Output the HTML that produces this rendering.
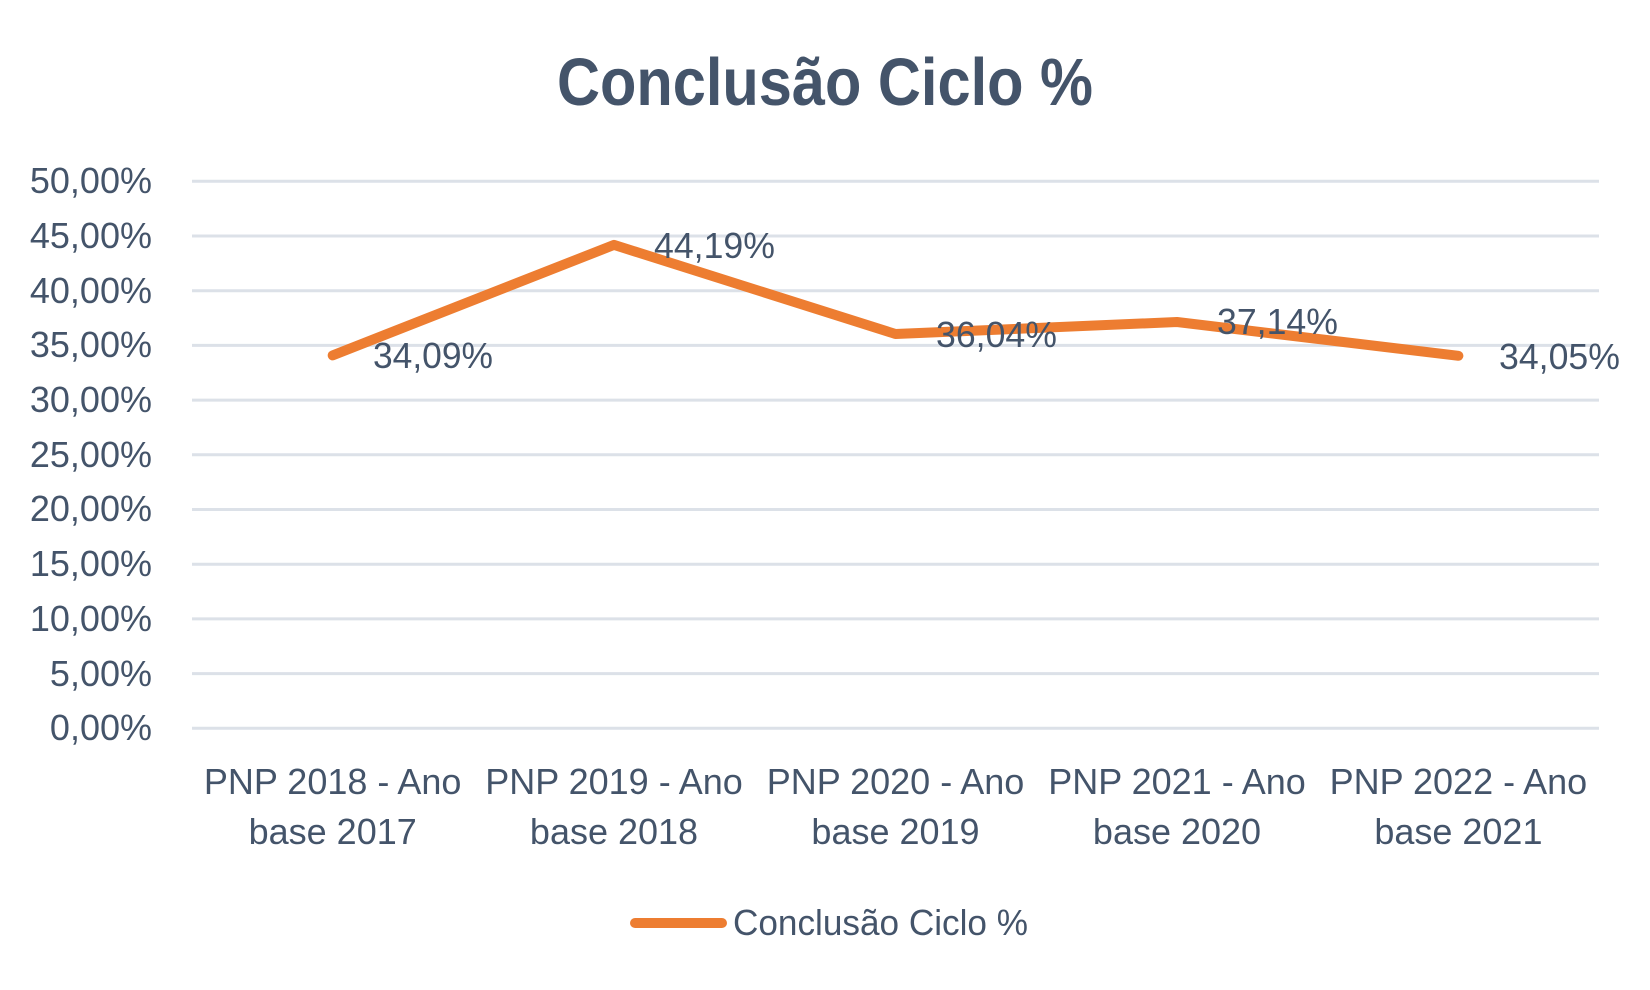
<!DOCTYPE html>
<html>
<head>
<meta charset="utf-8">
<style>
html,body{margin:0;padding:0;background:#fff;}
svg{display:block;}
text{font-family:"Liberation Sans",Arial,sans-serif;fill:#44546A;}
</style>
</head>
<body>
<svg width="1650" height="990" viewBox="0 0 1650 990" xmlns="http://www.w3.org/2000/svg">
<rect width="1650" height="990" fill="#fff"/>
<!-- Title -->
<text x="557" y="105" font-size="67" font-weight="bold" textLength="536" lengthAdjust="spacingAndGlyphs">Conclusão Ciclo %</text>

<!-- Gridlines -->
<g stroke="#DCE1E8" stroke-width="3">
<line x1="192" y1="181.3" x2="1599" y2="181.3"/>
<line x1="192" y1="236" x2="1599" y2="236"/>
<line x1="192" y1="290.7" x2="1599" y2="290.7"/>
<line x1="192" y1="345.4" x2="1599" y2="345.4"/>
<line x1="192" y1="400.1" x2="1599" y2="400.1"/>
<line x1="192" y1="454.8" x2="1599" y2="454.8"/>
<line x1="192" y1="509.5" x2="1599" y2="509.5"/>
<line x1="192" y1="564.2" x2="1599" y2="564.2"/>
<line x1="192" y1="618.9" x2="1599" y2="618.9"/>
<line x1="192" y1="673.6" x2="1599" y2="673.6"/>
<line x1="192" y1="728.3" x2="1599" y2="728.3"/>
</g>

<!-- Y axis labels -->
<g font-size="36" text-anchor="end">
<text x="152" y="193">50,00%</text>
<text x="152" y="248">45,00%</text>
<text x="152" y="303">40,00%</text>
<text x="152" y="357">35,00%</text>
<text x="152" y="412">30,00%</text>
<text x="152" y="467">25,00%</text>
<text x="152" y="521">20,00%</text>
<text x="152" y="576">15,00%</text>
<text x="152" y="631">10,00%</text>
<text x="152" y="686">5,00%</text>
<text x="152" y="740">0,00%</text>
</g>

<!-- Series line -->
<polyline points="332.7,355.4 614,244.9 895.5,334 1177,322 1458.4,355.8" fill="none" stroke="#ED7D31" stroke-width="10" stroke-linecap="round" stroke-linejoin="round"/>

<!-- Data labels -->
<g font-size="36">
<text x="373" y="368" textLength="120" lengthAdjust="spacingAndGlyphs">34,09%</text>
<text x="654" y="258" textLength="121" lengthAdjust="spacingAndGlyphs">44,19%</text>
<text x="936" y="347" textLength="121" lengthAdjust="spacingAndGlyphs">36,04%</text>
<text x="1217" y="334" textLength="121" lengthAdjust="spacingAndGlyphs">37,14%</text>
<text x="1499" y="369" textLength="121" lengthAdjust="spacingAndGlyphs">34,05%</text>
</g>

<!-- X axis labels -->
<g font-size="36" text-anchor="middle">
<text x="332.7" y="794">PNP 2018 - Ano</text>
<text x="332.7" y="844">base 2017</text>
<text x="614" y="794">PNP 2019 - Ano</text>
<text x="614" y="844">base 2018</text>
<text x="895.5" y="794">PNP 2020 - Ano</text>
<text x="895.5" y="844">base 2019</text>
<text x="1177" y="794">PNP 2021 - Ano</text>
<text x="1177" y="844">base 2020</text>
<text x="1458.4" y="794">PNP 2022 - Ano</text>
<text x="1458.4" y="844">base 2021</text>
</g>

<!-- Legend -->
<line x1="635" y1="923" x2="722" y2="923" stroke="#ED7D31" stroke-width="10" stroke-linecap="round"/>
<text x="733" y="935" font-size="36" textLength="295" lengthAdjust="spacingAndGlyphs">Conclusão Ciclo %</text>
</svg>
</body>
</html>
